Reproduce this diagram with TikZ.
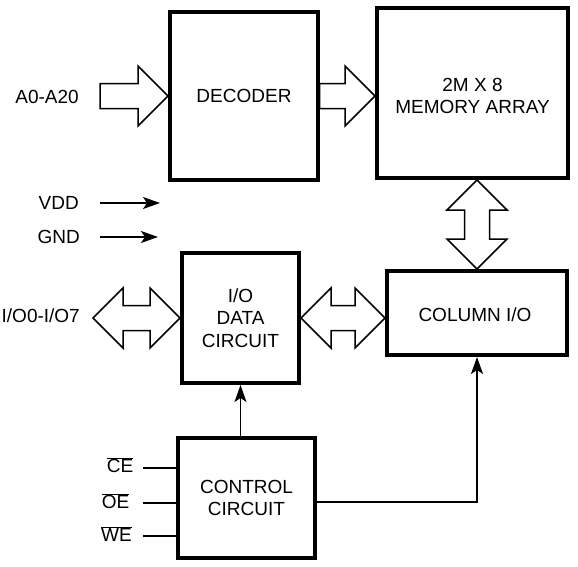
\documentclass[tikz,border=0pt]{standalone}
\usepackage{fontspec}
\setmainfont{Liberation Sans}
\usetikzlibrary{arrows.meta,calc}
\newcommand\lblfont{\fontsize{19}{22.5}\selectfont}
\begin{document}
\begin{tikzpicture}[x=1pt,y=-1pt,
  box/.style={draw,line width=4pt,inner sep=0pt,align=center,font=\lblfont},
  blk/.style={draw,line width=1.5pt,fill=white,line join=miter},
  thinarrow/.style={line width=1.6pt,-{Stealth[length=17pt,width=12pt,inset=4pt]}},
  sig/.style={line width=1.6pt},
  lab/.style={inner sep=0pt,font=\lblfont,align=center}]
\useasboundingbox (0,0) rectangle (578,566);
% boxes
\node[box,minimum width=148pt,minimum height=168pt] (dec) at (244,96) {DECODER};
\node[box,minimum width=191pt,minimum height=170pt] (mem) at (472.5,93) {};
\node[lab] (memtxt) at (mem.center |- 0,96) {2M X 8\\MEMORY ARRAY};
\node[box,minimum width=180pt,minimum height=84pt] (col) at (477,313) {};
\node[lab] (coltxt) at (475,315) {COLUMN I/O};
\node[box,minimum width=117pt,minimum height=130pt] (iod) at (240.5,318) {I/O\\DATA\\CIRCUIT};
\node[box,minimum width=137pt,minimum height=120pt] (ctl) at (246.5,498) {CONTROL\\CIRCUIT};
% labels
\node[lab,anchor=east] (a) at (79,97) {A0-A20};
\node[lab,anchor=east] (vdd) at (79,203) {VDD};
\node[lab,anchor=east] (gnd) at (80,237) {GND};
\node[lab,anchor=east] (io) at (80,316) {I/O0-I/O7};
\node[lab] (ce) at (120,465) {$\overline{\mbox{CE}}$};
\node[lab] (oe) at (115.5,501) {$\overline{\mbox{OE}}$};
\node[lab] (we) at (116.5,534) {$\overline{\mbox{WE}}$};
% power arrows
\coordinate (vddE) at (160,203);
\coordinate (gndE) at (158,237);
\draw[thinarrow] ([xshift=21pt]vdd.east) -- (vddE);
\draw[thinarrow] ([xshift=20pt]gnd.east) -- (gndE);
% block arrows
\draw[blk] (dec.west) -- ++(-30,30) -- ++(0,-17.5) -- ++(-38,0) -- ++(0,-25) -- ++(38,0) -- ++(0,-17.5) -- cycle;
\draw[blk] (mem.west |- dec.east) -- ++(-30,30) -- ++(0,-17.5) -- ++(-25.5,0) -- ++(0,-25) -- ++(25.5,0) -- ++(0,-17.5) -- cycle;
\draw[blk] (col.north |- mem.south) -- ++(30,30) -- ++(-17.5,0) -- ++(0,29) -- ++(17.5,0) -- (col.north) -- ++(-30,-30) -- ++(17.5,0) -- ++(0,-29) -- ++(-17.5,0) -- cycle;
\coordinate (ioL) at (93,318);
\draw[blk] (ioL) -- ++(30,-30) -- ++(0,17.5) -- ++(27,0) -- ++(0,-17.5) -- (iod.west) -- ++(-30,30) -- ++(0,-17.5) -- ++(-27,0) -- ++(0,17.5) -- cycle;
\draw[blk] (iod.east) -- ++(30,-30) -- ++(0,17.5) -- ++(24,0) -- ++(0,-17.5) -- (col.west |- iod.east) -- ++(-30,30) -- ++(0,-17.5) -- ++(-24,0) -- ++(0,17.5) -- cycle;
% control signals
\coordinate (ceS) at (143,468);
\coordinate (oeS) at (143,503);
\coordinate (weS) at (143,536);
\draw[sig] (ceS) -- (ceS -| ctl.west);
\draw[sig] (oeS) -- (oeS -| ctl.west);
\draw[sig] (weS) -- (weS -| ctl.west);
\draw[thinarrow] (iod.south |- ctl.north) -- (iod.south);
\draw[thinarrow] ([yshift=-4pt]ctl.east) -| (col.south);
\end{tikzpicture}
\end{document}
